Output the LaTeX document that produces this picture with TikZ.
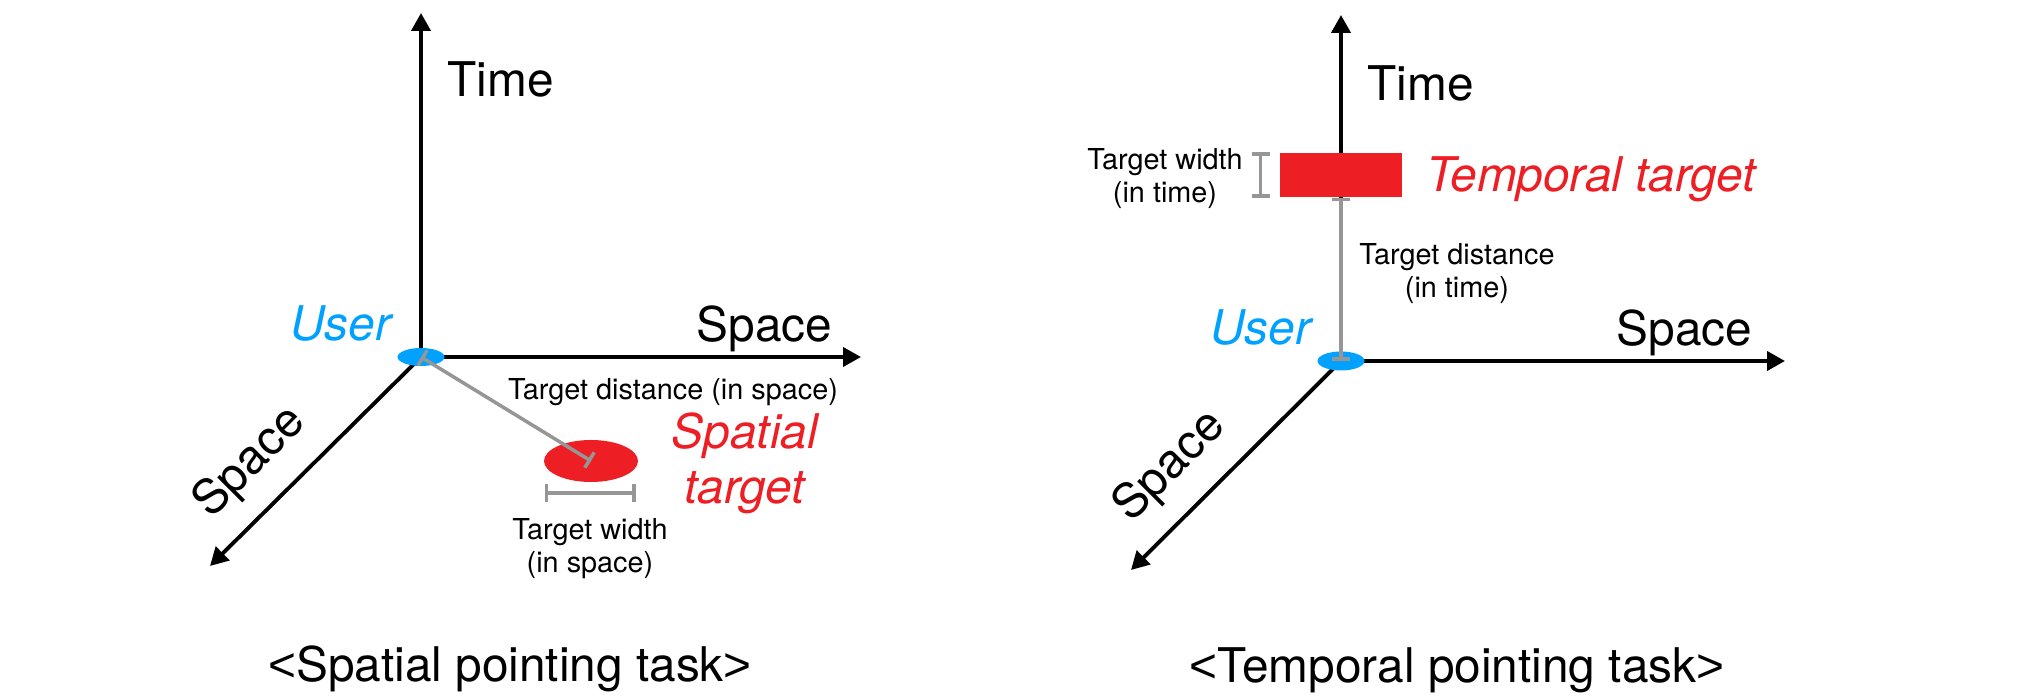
\documentclass[tikz,border=0pt]{standalone}
\usepackage{fontspec}
\setmainfont{TeX Gyre Heros}
\newfontfamily\bracketfont{Liberation Sans}
\usepackage{xcolor}
\usepackage{tikz}
\usetikzlibrary{shapes.geometric,positioning,calc,arrows.meta}
\definecolor{userBlue}{RGB}{0,161,255}
\definecolor{targetRed}{RGB}{237,30,36}
\definecolor{barGray}{RGB}{150,150,150}
\newcommand{\lbr}{{\bracketfont<}}
\newcommand{\rbr}{{\bracketfont>}}

\begin{document}
\begin{tikzpicture}[
    axis/.style={line width=1.1pt, -{Triangle[length=0.18cm,width=0.19cm]}},
    big/.style={font=\fontsize{13.6}{15.6}\selectfont, inner sep=0pt},
    bigit/.style={font=\fontsize{13.6}{15.6}\selectfont\itshape, inner sep=0pt, align=center},
    small/.style={font=\fontsize{8.2}{9.4}\selectfont, inner sep=0pt, align=center},
    measure/.style={barGray, line width=1pt, {Bar[width=0.18cm]}-{Bar[width=0.18cm]}},
    userdot/.style={ellipse, fill=userBlue, minimum width=0.47cm, minimum height=0.18cm, inner sep=0pt},
]
    \useasboundingbox (0,0) rectangle (20.26,6.96);

    % Spatial pointing task: axes
    \coordinate (o1) at (4.21,3.39);
    \coordinate (time1) at (4.21,6.83);
    \coordinate (space1) at (8.61,3.39);
    \coordinate (depth1) at (2.10,1.30);
    \draw[axis] (o1) -- (time1);
    \draw[axis] (o1) -- (space1);
    \draw[axis] (o1) -- (depth1);

    \node[big, anchor=base west] (timelbl1) at (4.47,5.99) {Time};
    \node[big, anchor=base west] (spacelbl1) at (6.96,3.54) {Space};
    \node[big, rotate=45] (depthlbl1) at (2.50,2.33) {Space};

    % User and spatial target
    \node[userdot] (user1) at (o1) {};
    \node[bigit, anchor=base east, text=userBlue] (userlbl1) at (3.92,3.55) {User};
    \node[ellipse, fill=targetRed, minimum width=0.94cm, minimum height=0.42cm, inner sep=0pt] (target1) at (5.91,2.35) {};
    \draw[measure] (user1.center) -- (target1.center);
    \node[small, anchor=base west] (distlbl1) at (5.075,2.96) {Target distance (in space)};

    \coordinate (w1a) at (5.445,2.03);
    \coordinate (w1b) at (6.355,2.03);
    \draw[measure] (w1a) -- (w1b);
    \node[small, anchor=north] (widthlbl1) at (5.90,1.78) {Target width\\(in space)};
    \node[bigit, text=targetRed, anchor=north] (targetlbl1) at (7.45,2.84) {Spatial\\target};

    \node[big, anchor=base] (caption1) at (5.10,0.14) {\lbr Spatial pointing task\rbr};

    % Temporal pointing task: axes
    \coordinate (o2) at (13.41,3.35);
    \coordinate (time2) at (13.41,6.81);
    \coordinate (space2) at (17.85,3.35);
    \coordinate (depth2) at (11.31,1.26);
    \draw[axis] (o2) -- (time2);
    \draw[axis] (o2) -- (space2);
    \draw[axis] (o2) -- (depth2);

    \node[big, anchor=base west] (timelbl2) at (13.67,5.95) {Time};
    \node[big, anchor=base west] (spacelbl2) at (16.16,3.50) {Space};
    \node[big, rotate=45] (depthlbl2) at (11.70,2.29) {Space};

    % User and temporal target
    \node[userdot, minimum height=0.19cm] (user2) at (o2) {};
    \node[bigit, anchor=base east, text=userBlue] (userlbl2) at (13.12,3.51) {User};
    \node[rectangle, fill=targetRed, minimum width=1.22cm, minimum height=0.44cm, inner sep=0pt] (target2) at (13.41,5.21) {};
    \draw[measure] (user2.center) -- (target2.south);
    \node[small, anchor=north] (distlbl2) at (14.57,4.53) {Target distance\\(in time)};

    \coordinate (w2a) at (12.605,5.44);
    \coordinate (w2b) at (12.605,4.98);
    \draw[measure] (w2a) -- (w2b);
    \node[small, anchor=north] (widthlbl2) at (11.65,5.48) {Target width\\(in time)};
    \node[bigit, text=targetRed, anchor=base west] (targetlbl2) at (14.255,5.04) {Temporal target};

    \node[big, anchor=base] (caption2) at (14.57,0.13) {\lbr Temporal pointing task\rbr};
\end{tikzpicture}
\end{document}
